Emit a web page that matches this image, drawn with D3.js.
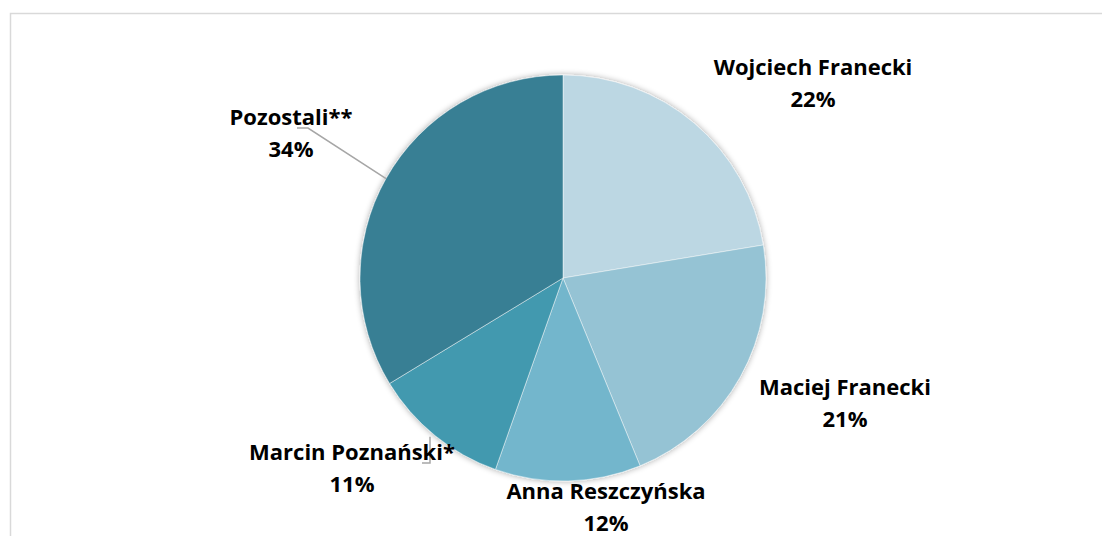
<!DOCTYPE html>
<html>
<head>
<meta charset="utf-8">
<script src="https://cdn.jsdelivr.net/npm/d3@7"></script>
<style>
  body { margin: 0; background: #fff; }
  svg { display: block; }
</style>
</head>
<body>
<div id="chart"></div>
<script>
// data
var names = ["Wojciech Franecki", "Maciej Franecki", "Anna Reszczyńska", "Marcin Poznański*", "Pozostali**"];
var shares = [22.4, 21.4, 11.6, 10.9, 33.7];
var colors = ["#bcd7e3", "#95c3d4", "#73b6cc", "#4399af", "#377f94"];

// label layout (centre x, first line y) - hand placed like in the original
var labelPos = [[813, 75], [845, 395], [606, 499], [352, 460], [291, 125]];

var width = 1102, height = 536;
var cx = 563, cy = 278, radius = 203;

var svg = d3.select("#chart")
  .append("svg")
    .attr("width", width)
    .attr("height", height);

// frame around the chart area
svg.append("rect")
    .attr("x", 10.5)
    .attr("y", 13.5)
    .attr("width", 1110)
    .attr("height", 540)
    .attr("fill", "none")
    .attr("stroke", "#d9d9d9")
    .attr("stroke-width", 1.5);

// soft shadow like excel
var defs = svg.append("defs");
var f = defs.append("filter")
    .attr("id", "shadow")
    .attr("x", "-20%").attr("y", "-20%")
    .attr("width", "140%").attr("height", "140%");
f.append("feGaussianBlur").attr("in", "SourceAlpha").attr("stdDeviation", 3).attr("result", "blur");
f.append("feComponentTransfer").append("feFuncA").attr("type", "linear").attr("slope", 0.35);
var m = f.append("feMerge");
m.append("feMergeNode");
m.append("feMergeNode").attr("in", "SourceGraphic");

var data = names.map(function(n, i) { return {name: n, value: shares[i], color: colors[i]}; });

var pie = d3.pie()
    .sort(null)
    .value(function(d) { return d.value; });

var arc = d3.arc()
    .innerRadius(0)
    .outerRadius(radius);

var arcs = pie(data);

var g = svg.append("g")
    .attr("transform", "translate(" + cx + "," + cy + ")");

var pieG = g.append("g").attr("filter", "url(#shadow)");
pieG.selectAll("path")
  .data(arcs)
  .enter()
  .append("path")
    .attr("d", arc)
    .attr("fill", function(d) { return d.data.color; })
    .attr("stroke", "rgba(255,255,255,0.45)")
    .attr("stroke-width", 1);

// leader lines (only for the two labels that sit away from the pie)
function edgePoint(d) {
  var a = (d.startAngle + d.endAngle) / 2;
  return [cx + radius * Math.sin(a), cy - radius * Math.cos(a)];
}
var leaders = [
  {i: 4, pts: function(p) { return [p, [308, 128], [297, 128]]; }},
  {i: 3, pts: function(p) { return [[430, p[1] + 1], [430, 463], [422, 463]]; }}
];
leaders.forEach(function(l) {
  var p = edgePoint(arcs[l.i]);
  svg.append("path")
    .attr("d", d3.line()(l.pts(p)))
    .attr("fill", "none")
    .attr("stroke", "#a6a6a6")
    .attr("stroke-width", 1.5);
});

// labels
var labels = svg.selectAll("text.lbl")
  .data(arcs)
  .enter()
  .append("text")
    .attr("class", "lbl")
    .attr("text-anchor", "middle")
    .attr("font-family", "'Open Sans', sans-serif")
    .attr("font-weight", "bold")
    .attr("font-size", 22)
    .attr("fill", "#000");

labels.append("tspan")
    .attr("x", function(d, i) { return labelPos[i][0]; })
    .attr("y", function(d, i) { return labelPos[i][1]; })
    .text(function(d) { return d.data.name; });
labels.append("tspan")
    .attr("x", function(d, i) { return labelPos[i][0]; })
    .attr("y", function(d, i) { return labelPos[i][1] + 32; })
    .text(function(d) { return Math.round(d.data.value) + "%"; });
</script>
</body>
</html>
